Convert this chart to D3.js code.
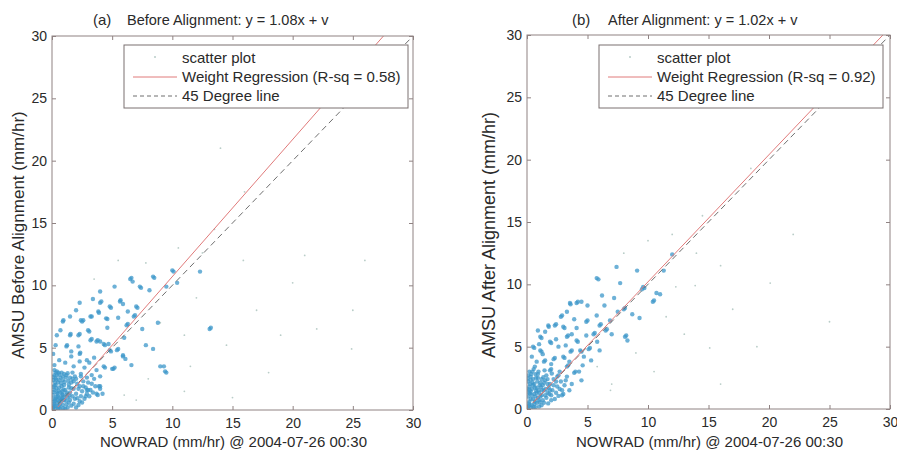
<!DOCTYPE html>
<html lang="en">
<head>
<meta charset="UTF-8">
<title>AMSU vs NOWRAD scatter</title>
<style>
  body { margin: 0; background: #fff; }
  svg text { font-family: "Liberation Sans", Arial, sans-serif; fill: #2a2a2a; }
</style>
</head>
<body>
<div id="chart"></div>
<script src="https://d3js.org/d3.v7.min.js"></script>
<script>
// ---- data ----
const ticks = [0, 5, 10, 15, 20, 25, 30];
const tags = ["(a)", "(b)"];
const titles = ["Before Alignment: y = 1.08x + v", "After Alignment: y = 1.02x + v"];
const yLabels = ["AMSU Before Alignment (mm/hr)", "AMSU After Alignment (mm/hr)"];
const xLabel = "NOWRAD (mm/hr) @ 2004-07-26 00:30";
const rsq = ["0.58", "0.92"];
const fitSlope = [1.1, 1.02];
const fitIntercept = [-0.3, 0];
const legendNames = ["scatter plot", "Weight Regression", "45 Degree line"];

const beforePoints = [
  [0.1,0.2],[0.2,0.5],[0.3,0.9],[0.1,1.2],[0.2,1.6],[0.3,2.0],[0.1,2.4],[0.2,2.8],[0.4,3.1],[0.5,0.3],
  [0.6,0.7],[0.5,1.1],[0.7,1.4],[0.6,1.8],[0.5,2.2],[0.7,2.6],[0.8,3.0],[0.9,0.4],[1.0,0.8],[0.9,1.2],
  [1.1,1.6],[1.0,2.0],[0.9,2.4],[1.2,2.8],[1.3,0.2],[1.4,0.6],[1.3,1.0],[1.5,1.4],[1.4,1.8],[1.6,2.2],
  [1.5,2.6],[1.7,3.0],[1.8,0.5],[1.9,0.9],[2.0,1.3],[1.8,1.7],[2.1,2.1],[2.0,2.5],[2.3,0.7],[2.4,1.1],
  [2.5,1.5],[2.3,1.9],[2.6,2.3],[2.7,0.9],[2.9,1.3],[2.8,1.8],[3.1,1.1],[3.2,1.6],[3.0,2.2],[3.4,1.4],
  [3.6,1.9],[3.5,2.5],[3.8,1.2],[4.0,1.7],[4.2,1.3],[0.3,0.1],[0.7,0.1],[1.1,0.1],[0.15,0.65],[0.4,1.4],
  [0.8,1.9],[1.2,0.45],[0.25,2.2],[0.6,2.4],[1.0,2.9],[0.2,3.2],[0.05,0.9],[0.35,1.75],[1.6,0.35],[2.2,0.4],
  [1.25,1.25],[1.7,1.1],[2.6,1.9],[3.3,2.8],[2.9,2.6],[0.45,0.55],[0.85,0.95],[1.35,2.35],[0.55,3.0],[1.9,2.7],
  [0.05,0.05],[0.15,0.35],[0.25,0.75],[0.35,1.05],[0.45,1.3],[0.55,1.55],[0.65,0.45],[0.75,0.85],[0.85,1.25],[0.95,1.65],
  [1.05,2.25],[1.15,2.6],[0.1,1.45],[0.2,1.95],[0.3,2.55],[0.4,2.8],[0.5,0.05],[0.6,0.25],[0.8,0.7],[1.0,1.05],
  [1.2,1.4],[1.4,2.05],[1.6,1.75],[1.8,2.3],[0.25,0.3],[0.45,0.8],[0.65,1.0],[0.85,1.5],[0.35,2.45],[0.75,2.15],
  [1.15,0.75],[1.45,1.15],[0.05,1.85],[0.1,2.65],[0.3,3.0],[0.6,2.85],[0.9,2.7],[1.3,2.95],[2.2,1.7],[2.4,2.7],
  [2.8,1.1],[3.0,1.6],[3.3,2.1],[3.9,1.9],[2.0,0.2],[2.5,0.6],[1.5,0.8],[1.7,2.5],[2.1,0.95],[0.95,0.15],
  [4.0,8.6],[5.65,8.7],[5.9,8.5],[4.8,8.3],[3.85,7.9],[4.5,7.35],[2.6,7.2],[3.0,6.4],[3.2,5.6],[3.7,5.5],
  [4.3,5.3],[4.8,4.8],[5.4,4.8],[2.9,4.0],[2.3,4.5],[1.2,5.1],[1.6,4.3],[1.5,6.0],[2.2,6.0],[0.7,6.4],
  [0.9,7.1],[2.3,8.6],[4.0,9.5],[5.2,9.9],[6.2,6.8],[6.8,7.5],[7.0,8.3],[5.9,4.3],[5.1,3.3],[4.3,3.5],
  [3.7,3.2],[4.0,1.9],[3.7,1.3],[2.9,1.6],[6.5,10.5],[6.7,10.3],[8.4,10.7],[10.0,11.2],[12.3,11.1],[9.4,3.1],
  [9.0,3.5],[8.4,4.9],[13.1,6.5],[3.2,7.5],[2.5,7.1],[6.3,7.9],[7.3,9.9],[8.1,9.6],[9.5,9.9],[1.5,7.5],
  [4.0,5.5],[4.7,5.3],[2.2,5.1],[1.6,4.7],[2.3,3.9],[1.8,3.5],[6.1,4.1],[5.0,3.3],[4.0,2.7],[9.3,3.5],
  [7.5,6.5],[0.1,4.5],[0.2,3.6],[0.6,4.0],[0.4,6.0],[0.3,5.2],[3.5,4.2],[2.7,3.4],[4.6,6.6],[5.5,7.4],
  [6.0,5.8],[3.4,8.9],[2.0,8.0],[1.1,3.8],[7.8,5.2],[8.8,7.0],[10.4,10.2],[6.6,3.6],[2.4,2.9],[3.1,3.8],
  [4.1,8.7],[5.7,8.8],[4.9,8.2],[3.9,7.8],[4.6,7.3],[3.1,6.3],[3.3,5.7],[3.8,5.6],[4.4,5.2],[4.9,4.7],
  [5.5,4.9],[2.35,4.6],[1.25,5.2],[1.55,6.1],[2.3,6.1],[0.95,7.2],[6.6,10.6],[8.5,10.6],[6.3,6.9],[6.9,7.6],
  [7.1,8.2],[4.4,3.4],[5.2,3.4],[2.4,7.2],[3.3,7.5],[5.9,4.4],[9.5,3.0],[13.2,6.6],[10.1,11.1],[7.4,9.8]
];
const beforeFaint = [
  [11.5,3.5],[15.9,12.0],[21.0,12.4],[20.0,10.2],[24.9,4.9],[14.5,5.2],[17.0,8.0],[7.8,11.8],[10.5,13.0],[13.5,14.5],
  [16.0,17.5],[12.0,9.0],[9.0,7.0],[25.0,8.0],[8.0,2.5],[18.0,3.0],[22.0,6.5],[5.5,12.0],[3.5,10.5],[11.0,1.5],
  [15.0,1.0],[7.0,0.8],[26.0,12.0],[14.0,21.0],[11.0,6.0],[6.0,1.2],[19.0,6.0],[12.5,12.6]
];
const afterPoints = [
  [0.1,0.2],[0.2,0.6],[0.1,1.0],[0.3,1.4],[0.2,1.8],[0.1,2.2],[0.3,2.6],[0.2,3.0],[0.4,0.3],[0.5,0.8],
  [0.6,1.2],[0.4,1.6],[0.6,2.0],[0.5,2.4],[0.7,2.8],[0.8,0.5],[0.9,0.9],[1.0,1.3],[0.8,1.7],[1.1,2.1],
  [0.9,2.5],[1.2,0.3],[1.3,0.7],[1.2,1.1],[1.4,1.5],[1.3,1.9],[1.5,2.3],[1.6,0.9],[1.7,1.3],[1.8,1.7],
  [1.6,2.7],[2.0,1.1],[2.1,1.5],[1.9,2.0],[2.2,2.4],[2.4,1.3],[2.5,1.8],[2.3,0.8],[2.7,1.6],[2.8,2.2],
  [3.0,1.2],[3.1,1.9],[3.3,2.6],[0.15,0.45],[0.35,0.1],[0.7,0.15],[0.25,1.25],[0.45,2.1],[0.75,1.45],[1.05,0.55],
  [0.55,3.2],[0.95,3.0],[1.45,3.1],[0.05,1.6],[0.3,2.35],[1.15,1.75],[1.75,0.45],[2.6,1.05],[3.5,1.5],[3.7,2.0],
  [0.65,0.6],[1.35,2.55],[2.05,2.85],
  [0.05,0.05],[0.2,0.3],[0.3,0.8],[0.15,1.3],[0.4,1.1],[0.5,1.9],[0.25,2.0],[0.35,2.8],[0.6,0.4],[0.7,1.0],
  [0.8,1.3],[0.65,1.7],[0.85,2.2],[0.75,2.5],[1.0,0.7],[1.1,1.0],[0.95,1.5],[1.25,1.5],[1.05,1.9],[1.2,2.4],
  [1.4,0.5],[1.5,1.1],[1.55,1.6],[1.4,2.1],[1.7,2.0],[1.85,1.2],[2.2,1.9],[2.4,2.2],[0.1,2.7],[0.45,3.0],
  [0.9,2.8],[1.7,2.4],[2.0,0.7],[2.9,1.5],[3.2,2.3],[2.6,2.7],[0.55,0.15],[1.0,0.2],[0.2,1.55],[0.05,2.45],
  [5.76,10.5],[7.4,11.4],[3.55,8.5],[4.1,8.5],[4.5,8.6],[3.3,7.8],[1.76,6.7],[2.3,6.7],[3.0,6.6],[4.1,6.5],
  [4.9,7.0],[5.76,7.5],[6.0,6.7],[6.86,7.1],[7.5,7.8],[1.1,5.8],[1.9,5.4],[3.3,5.8],[4.1,5.5],[4.9,5.9],
  [6.0,4.7],[5.2,4.9],[4.4,4.7],[3.0,4.2],[2.2,4.0],[1.1,4.7],[0.5,5.0],[0.65,3.4],[1.9,3.1],[3.3,3.4],
  [3.9,2.9],[4.5,2.3],[2.9,1.1],[1.9,1.5],[8.2,5.9],[8.3,5.5],[9.3,7.3],[10.4,8.6],[10.7,9.3],[11.0,9.2],
  [9.6,9.8],[9.1,11.1],[11.3,11.1],[7.7,10.1],[8.0,8.0],[9.5,9.6],[6.5,6.3],[2.6,5.0],[3.6,4.6],[2.0,3.6],
  [1.4,3.8],[2.7,3.0],[3.5,3.8],[4.6,3.5],[5.5,6.0],[6.4,8.3],[2.8,7.4],[1.5,6.2],[0.4,4.2],[3.9,7.2],
  [5.0,8.3],[6.2,9.1],[7.2,8.9],[8.7,7.6],[4.3,3.0],[5.3,3.9],[0.9,6.3],[12.0,12.4],[1.3,4.4],[2.4,5.6],
  [3.7,6.0],[4.7,4.2],[0.8,3.8],[2.5,2.6],[3.2,5.1],[5.8,5.4],[7.0,6.0],[1.0,5.2],
  [5.9,10.4],[3.6,8.4],[4.2,8.6],[1.8,6.6],[2.4,6.8],[3.1,6.5],[5.0,7.1],[6.1,6.8],[1.2,5.7],[2.0,5.3],
  [3.4,5.9],[4.2,5.4],[5.1,4.8],[4.5,4.6],[3.1,4.1],[2.3,4.1],[1.2,4.6],[2.0,3.2],[3.4,3.5],[4.0,3.0],
  [8.1,5.8],[10.5,8.7],[9.7,9.7],[8.1,8.1],[6.6,6.4],[3.7,4.7],[1.5,3.9],[5.6,6.1],[2.9,7.5],[0.6,4.9]
];
const afterFaint = [
  [5.8,3.4],[6.9,1.5],[11.5,7.4],[12.3,9.8],[20.1,10.1],[15.1,4.9],[13.9,9.9],[16.0,11.5],[14.5,15.5],[18.5,19.3],
  [10.5,3.0],[13.0,6.0],[17.0,8.0],[25.0,7.0],[22.0,14.0],[8.0,12.5],[12.0,14.0],[7.0,2.0],[9.0,4.5],[16.0,2.0],
  [10.0,13.5],[14.0,12.5],[19.0,5.0]
];

// ---- layout ----
const W = 897, H = 451;
const panels = [
  { left: 52, right: 413, top: 36, bottom: 410, pts: beforePoints, faint: beforeFaint, tagX: 93, titleX: 127, ylabX: 24, legX: 124, legY: 45 },
  { left: 527, right: 890, top: 35, bottom: 409, pts: afterPoints, faint: afterFaint, tagX: 572, titleX: 608, ylabX: 495, legX: 599, legY: 45 }
];

const svg = d3.select("#chart").append("svg")
  .attr("width", W)
  .attr("height", H);

const axisColor = "#8f8282";

panels.forEach((p, i) => {
  const x = d3.scaleLinear().domain([0, 30]).range([p.left, p.right]);
  const y = d3.scaleLinear().domain([0, 30]).range([p.bottom, p.top]);
  const g = svg.append("g");

  g.append("clipPath").attr("id", "clip" + i)
    .append("rect")
    .attr("x", p.left).attr("y", p.top)
    .attr("width", p.right - p.left).attr("height", p.bottom - p.top);

  const plot = g.append("g").attr("clip-path", `url(#clip${i})`);

  // faint low-weight dots
  plot.selectAll("circle.faint")
    .data(p.faint)
    .enter().append("circle")
    .attr("class", "faint")
    .attr("cx", d => x(d[0]))
    .attr("cy", d => y(d[1]))
    .attr("r", 0.9)
    .attr("fill", "#b9cdc8");

  // scatter
  plot.selectAll("circle.pt")
    .data(p.pts)
    .enter().append("circle")
    .attr("class", "pt")
    .attr("cx", d => x(d[0]))
    .attr("cy", d => y(d[1]))
    .attr("r", 2.2)
    .attr("fill", "#3c97c9")
    .attr("opacity", 0.75);

  // 45 degree line
  plot.append("line")
    .attr("x1", x(0.5)).attr("y1", y(0.5))
    .attr("x2", x(30)).attr("y2", y(30))
    .attr("stroke", "#6f6f6f")
    .attr("stroke-width", 1)
    .attr("stroke-dasharray", "6,4");

  // weighted regression line
  const xEnd = (30 - fitIntercept[i]) / fitSlope[i];
  plot.append("line")
    .attr("x1", x(0.5)).attr("y1", y(fitSlope[i] * 0.5 + fitIntercept[i]))
    .attr("x2", x(xEnd)).attr("y2", y(30))
    .attr("stroke", "#e07a7a")
    .attr("stroke-width", 1);

  // axes, ticks pointing inward on all sides
  const styleAxis = sel => {
    sel.select(".domain").remove();
    sel.selectAll(".tick line").attr("stroke", axisColor);
    sel.selectAll(".tick text").attr("font-size", 14).attr("fill", "#2a2a2a");
    sel.attr("font-family", null);
  };
  g.append("g").attr("transform", `translate(0,${p.bottom})`)
    .call(d3.axisBottom(x).tickValues(ticks).tickSize(-4).tickSizeOuter(0).tickPadding(8))
    .call(styleAxis);
  g.append("g").attr("transform", `translate(0,${p.top})`)
    .call(d3.axisTop(x).tickValues(ticks).tickSize(-4).tickSizeOuter(0).tickFormat(""))
    .call(styleAxis);
  g.append("g").attr("transform", `translate(${p.left},0)`)
    .call(d3.axisLeft(y).tickValues(ticks).tickSize(-4).tickSizeOuter(0).tickPadding(5))
    .call(styleAxis);
  g.append("g").attr("transform", `translate(${p.right},0)`)
    .call(d3.axisRight(y).tickValues(ticks).tickSize(-4).tickSizeOuter(0).tickFormat(""))
    .call(styleAxis);

  g.append("rect")
    .attr("x", p.left).attr("y", p.top)
    .attr("width", p.right - p.left).attr("height", p.bottom - p.top)
    .attr("fill", "none")
    .attr("stroke", axisColor)
    .attr("stroke-width", 1);

  // legend
  const leg = g.append("g").attr("transform", `translate(${p.legX},${p.legY})`);
  leg.append("rect")
    .attr("width", 284).attr("height", 63)
    .attr("fill", "#fff")
    .attr("stroke", "#7a7070")
    .attr("stroke-width", 1);
  leg.append("circle").attr("cx", 31).attr("cy", 12).attr("r", 1).attr("fill", "#b9cdc8");
  leg.append("line").attr("x1", 9).attr("x2", 53).attr("y1", 32).attr("y2", 32)
    .attr("stroke", "#e07a7a");
  leg.append("line").attr("x1", 9).attr("x2", 53).attr("y1", 51).attr("y2", 51)
    .attr("stroke", "#6f6f6f").attr("stroke-dasharray", "4,3");
  const legText = [legendNames[0], `${legendNames[1]} (R-sq = ${rsq[i]})`, legendNames[2]];
  leg.selectAll("text.leg")
    .data(legText)
    .enter().append("text")
    .attr("class", "leg")
    .attr("x", 58)
    .attr("y", (d, k) => 18 + k * 19)
    .attr("font-size", 15)
    .text(d => d);

  // titles and labels
  g.append("text").attr("x", p.tagX).attr("y", 25).attr("font-size", 15).text(tags[i]);
  g.append("text").attr("x", p.titleX).attr("y", 25).attr("font-size", 14.5).text(titles[i]);
  g.append("text")
    .attr("x", (p.left + p.right) / 2 + 1)
    .attr("y", 447)
    .attr("text-anchor", "middle")
    .attr("font-size", 15)
    .text(xLabel);
  g.append("text")
    .attr("transform", `translate(${p.ylabX},235) rotate(-90)`)
    .attr("text-anchor", "middle")
    .attr("font-size", i === 0 ? 17 : 18)
    .text(yLabels[i]);
});
</script>
</body>
</html>
